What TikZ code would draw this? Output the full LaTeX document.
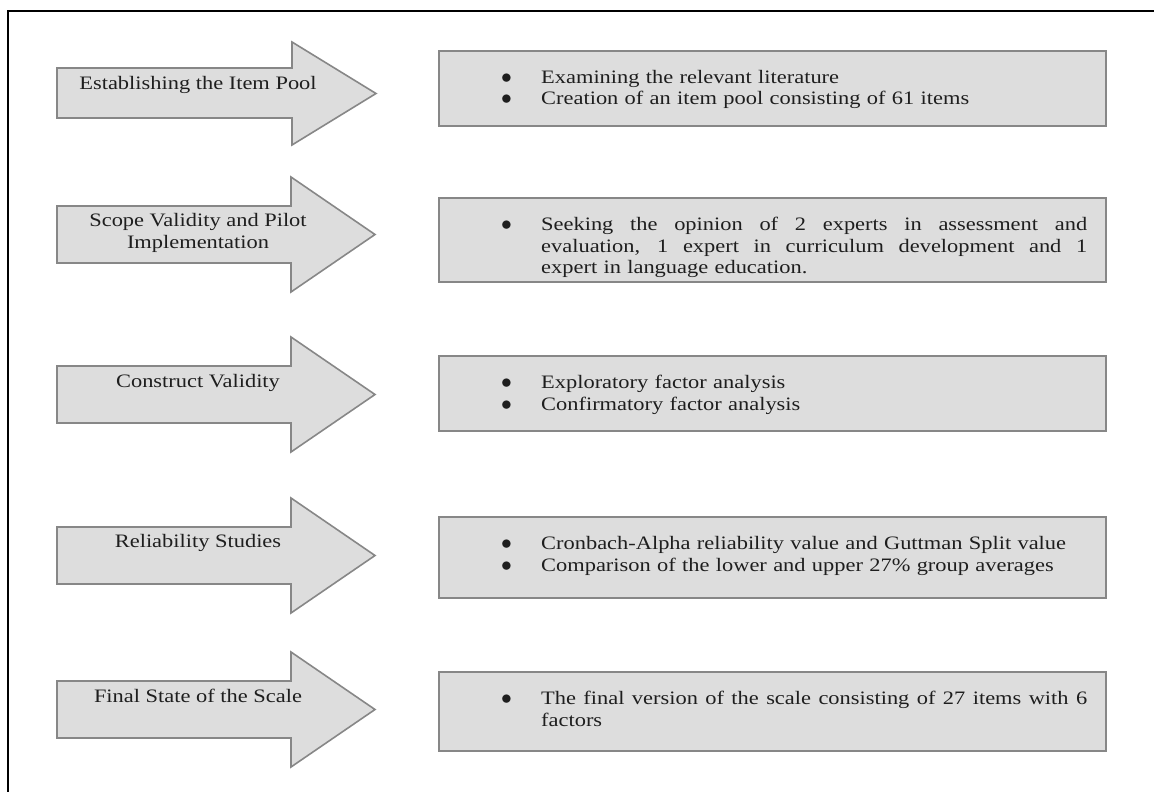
\documentclass[tikz,border=0pt]{standalone}
\usepackage{fontspec}
\setmainfont[FakeStretch=1.18]{Liberation Serif}
\usepackage{graphicx}
\usepackage{tikz}
\usetikzlibrary{positioning}

\definecolor{boxgray}{HTML}{DDDDDD}
\definecolor{edgegray}{HTML}{878787}
\definecolor{inkgray}{HTML}{1E1E1E}

\hyphenpenalty=10000
\newcommand{\bulletitem}[1]{\par\noindent\makebox[40pt][l]{\strut\scalebox{1.25}{$\bullet$}}%
  \parbox[t]{546pt}{\strut #1\strut}\par}
\newcommand{\fullline}[1]{\hbox to 546pt{\spaceskip=5pt plus 1fil\relax #1}}

\tikzset{
  stepshape/.style={draw=edgegray, fill=boxgray, line width=1.6pt, line join=miter},
  steplabel/.style={inner sep=0pt, anchor=north, align=center, text=inkgray},
  infotext/.style={inner sep=0pt, anchor=north west, text width=586pt, text=inkgray}
}

\begin{document}
\begin{tikzpicture}[x=1pt, y=-1pt, every node/.style={font=\fontsize{19}{21.8}\selectfont}]
			\useasboundingbox (0,0) rectangle (1154,792);

			% Draw the frame
			\draw[line width=2pt] (8,792) -- (8,11) -- (1154,11);

			% Draw the arrows
			\draw[stepshape] (57,68) -- (292,68) -- (292,42) -- (376,93.5) -- (292,145) -- (292,118) -- (57,118) -- cycle;
			\draw[stepshape] (57,206) -- (291,206) -- (291,177) -- (375,234.5) -- (291,292) -- (291,263) -- (57,263) -- cycle;
			\draw[stepshape] (57,366) -- (291,366) -- (291,337) -- (375,394.5) -- (291,452) -- (291,423) -- (57,423) -- cycle;
			\draw[stepshape] (57,527) -- (291,527) -- (291,498) -- (375,555.5) -- (291,613) -- (291,584) -- (57,584) -- cycle;
			\draw[stepshape] (57,681) -- (291,681) -- (291,652) -- (375,709.5) -- (291,767) -- (291,738) -- (57,738) -- cycle;

			% Labels on the arrows
			\node[steplabel] (poolstep) at (198,74) {\strut Establishing the Item Pool};
			\node[steplabel] (scopestep) at (198,211) {\strut Scope Validity and Pilot\\\strut Implementation};
			\node[steplabel] (constructstep) at (198,372) {\strut Construct Validity};
			\node[steplabel] (reliabilitystep) at (198,532) {\strut Reliability Studies};
			\node[steplabel] (finalstep) at (198,687) {\strut Final State of the Scale};

			% Draw the boxes
			\draw[stepshape] (439,51) rectangle (1106,126);
			\draw[stepshape] (439,198) rectangle (1106,282);
			\draw[stepshape] (439,356) rectangle (1106,431);
			\draw[stepshape] (439,517) rectangle (1106,598);
			\draw[stepshape] (439,672) rectangle (1106,751);

			% Text in the boxes
			\node[infotext] (pooltext) at (501,61.2) {%
				\bulletitem{Examining the relevant literature}
				\bulletitem{Creation of an item pool consisting of 61 items}};
			\node[infotext] (scopetext) at (501,208.2) {%
				\bulletitem{\fullline{Seeking the opinion of 2 experts in assessment and}\\
				\fullline{evaluation, 1 expert in curriculum development and 1}\\
				expert in language education.}};
			\node[infotext] (constructtext) at (501,366.2) {%
				\bulletitem{Exploratory factor analysis}
				\bulletitem{Confirmatory factor analysis}};
			\node[infotext] (reliabilitytext) at (501,527.2) {%
				\bulletitem{Cronbach-Alpha reliability value and Guttman Split value}
				\bulletitem{Comparison of the lower and upper 27\% group averages}};
			\node[infotext] (finaltext) at (501,682.2) {%
				\bulletitem{\fullline{The final version of the scale consisting of 27 items with 6}\\
				factors}};

		\end{tikzpicture}
\end{document}
